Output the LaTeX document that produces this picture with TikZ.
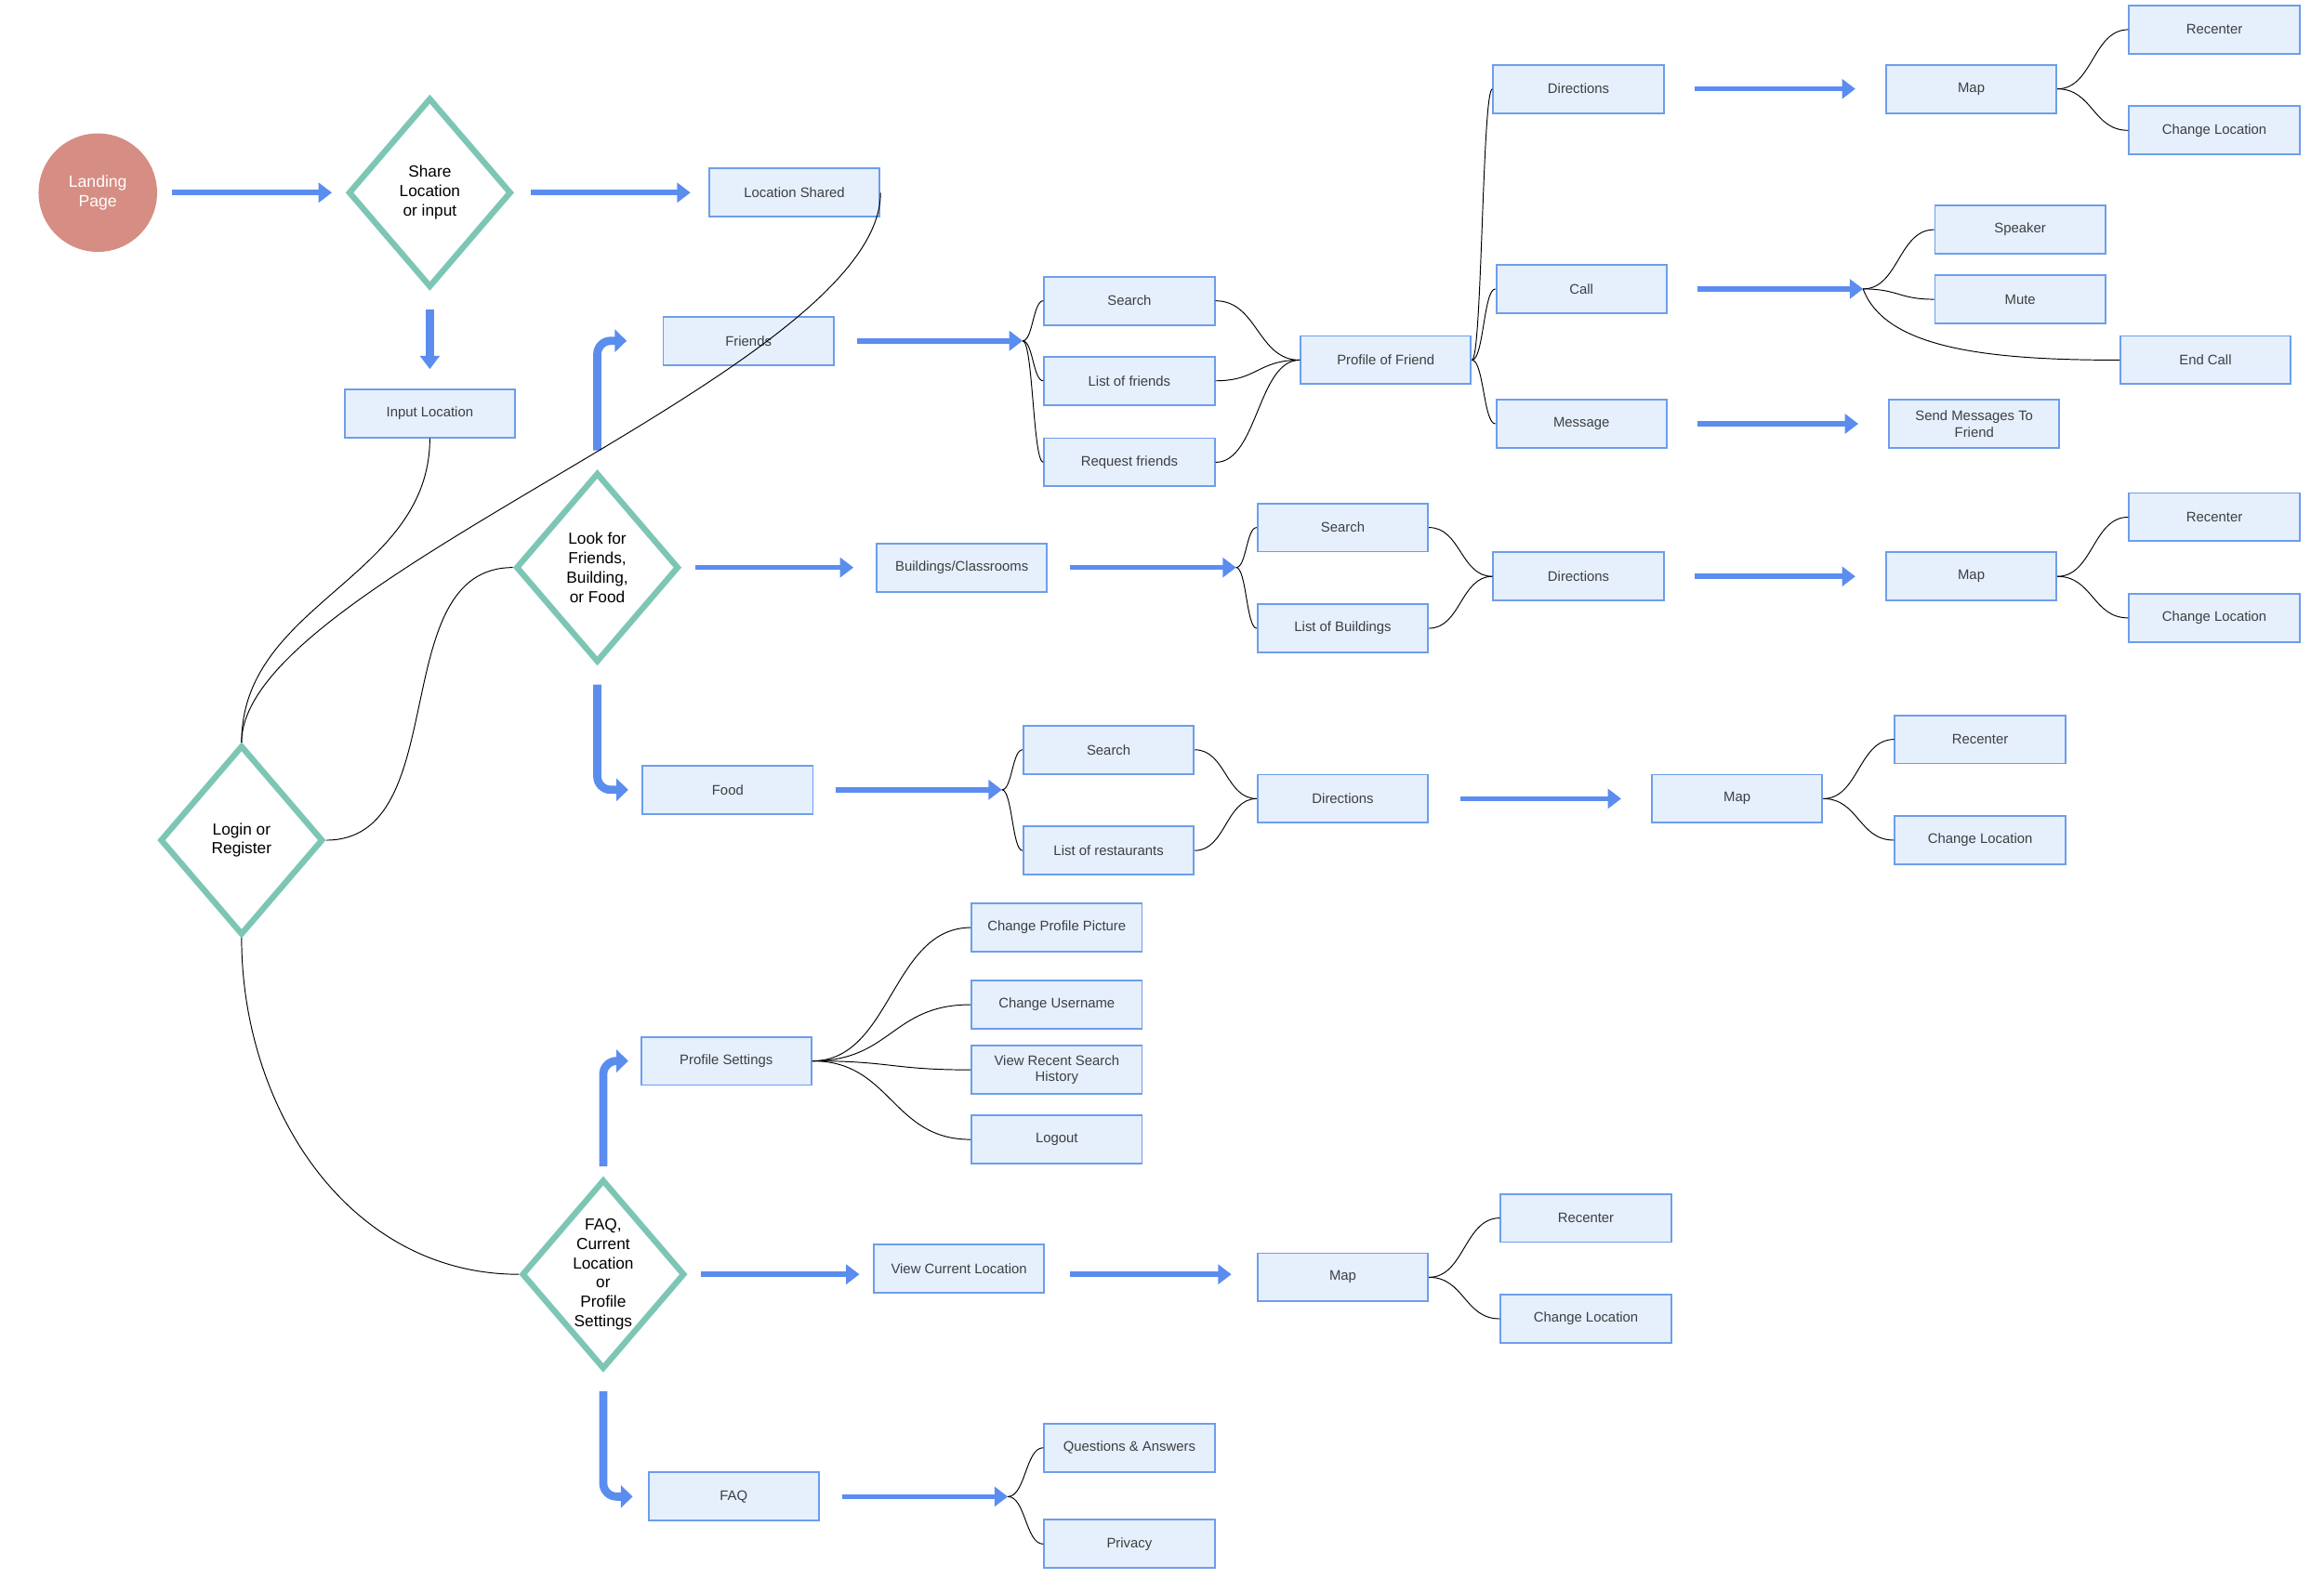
\documentclass[tikz,border=0pt]{standalone}
\usepackage{fontspec}
\setmainfont{Liberation Sans}
\usetikzlibrary{shapes.geometric,arrows.meta,calc}
\definecolor{boxfill}{HTML}{E6EFFC}
\definecolor{boxline}{HTML}{6D9EEB}
\definecolor{flowblue}{HTML}{5B8DEF}
\definecolor{decisiongreen}{HTML}{7DC6B5}
\definecolor{landingred}{HTML}{D68D83}
\definecolor{textgray}{HTML}{3C4043}
\tikzstyle{box}=[draw=boxline,line width=1.2pt,fill=boxfill,minimum width=114.6pt,minimum height=32.4pt,inner sep=0pt,text=textgray,align=center,font=\fontsize{9.3}{11}\selectfont]
\tikzstyle{decision}=[diamond,draw=decisiongreen,line width=4pt,shape aspect=0.86,minimum width=109.6pt,minimum height=127.5pt,inner sep=0pt,align=center,font=\fontsize{10.8}{13}\selectfont]
\tikzstyle{start}=[circle,fill=landingred,minimum size=79.7pt,inner sep=0pt,text=white,align=center,font=\fontsize{11}{13}\selectfont]
\tikzstyle{flow}=[flowblue,line width=3.5pt,-{Triangle[length=9pt,width=13pt]}]
\tikzstyle{turn}=[flowblue,line width=5.5pt,rounded corners=9pt,-{Triangle[length=8pt,width=15pt]}]
\tikzstyle{link}=[black,line width=0.6pt]
\tikzset{fan/.style={link,to path={let \p1=(\tikztostart),\p2=(\tikztotarget) in
  .. controls +({(\x2-\x1)/2},0) and +({(\x1-\x2)/2},0) .. (\tikztotarget) \tikztonodes}}}

\begin{document}
\begin{tikzpicture}[x=0.9965pt,y=-0.9965pt]
  \useasboundingbox (0,0) rectangle (1568,1074);

  % DECISIONS
  \node[start] (landing) at (66,130) {Landing\\Page};
  \node[decision] (share) at (290,130) {Share\\Location\\or input};
  \node[box] (shared) at (536,130) {Location Shared};
  \node[box] (input) at (290,279) {Input Location};
  \node[decision] (login) at (163,567) {Login or\\Register};
  \node[decision] (look) at (403,383) {Look for\\Friends,\\Building,\\or Food};
  \node[decision] (faqd) at (407,860) {FAQ,\\Current\\Location\\or\\Profile\\Settings};

  % FRIENDS
  \node[box] (friends) at (505,230) {Friends};
  \node[box] (srchF) at (762,203) {Search};
  \node[box] (listF) at (762,257) {List of friends};
  \node[box] (reqF) at (762,312) {Request friends};
  \node[box] (profile) at (935,243) {Profile of Friend};
  \node[box] (dirF) at (1065,60) {Directions};
  \node[box] (call) at (1067,195) {Call};
  \node[box] (msg) at (1067,286) {Message};
  \node[box] (mapF) at (1330,60) {Map};
  \node[box] (recF) at (1494,20) {Recenter};
  \node[box] (chgF) at (1494,88) {Change Location};
  \node[box] (speaker) at (1363,155) {Speaker};
  \node[box] (mute) at (1363,202) {Mute};
  \node[box] (endcall) at (1488,243) {End Call};
  \node[box] (send) at (1332,286) {Send Messages To\\Friend};

  % BUILDINGS
  \node[box] (bldg) at (649,383) {Buildings/Classrooms};
  \node[box] (srchB) at (906,356) {Search};
  \node[box] (listB) at (906,424) {List of Buildings};
  \node[box] (dirB) at (1065,389) {Directions};
  \node[box] (mapB) at (1330,389) {Map};
  \node[box] (recB) at (1494,349) {Recenter};
  \node[box] (chgB) at (1494,417) {Change Location};

  % FOOD
  \node[box] (food) at (491,533) {Food};
  \node[box] (srchD) at (748,506) {Search};
  \node[box] (listD) at (748,574) {List of restaurants};
  \node[box] (dirD) at (906,539) {Directions};
  \node[box] (mapD) at (1172,539) {Map};
  \node[box] (recD) at (1336,499) {Recenter};
  \node[box] (chgD) at (1336,567) {Change Location};

  % PROFILE SETTINGS
  \node[box] (settings) at (490,716) {Profile Settings};
  \node[box] (picture) at (713,626) {Change Profile Picture};
  \node[box] (username) at (713,678) {Change Username};
  \node[box] (history) at (713,722) {View Recent Search\\History};
  \node[box] (logout) at (713,769) {Logout};

  % CURRENT LOCATION
  \node[box] (view) at (647,856) {View Current Location};
  \node[box] (mapV) at (906,862) {Map};
  \node[box] (recV) at (1070,822) {Recenter};
  \node[box] (chgV) at (1070,890) {Change Location};

  % FAQ
  \node[box] (faq) at (495,1010) {FAQ};
  \node[box] (qa) at (762,977) {Questions \& Answers};
  \node[box] (privacy) at (762,1042) {Privacy};

  % ARROWS
  \coordinate (fanF) at (690,230);
  \coordinate (fanB) at (834,383);
  \coordinate (fanD) at (676,533);
  \coordinate (fanC) at (1257,195);
  \coordinate (fanQ) at (680,1010);
  \draw[flow,shorten <=10pt,shorten >=9pt] (landing.east) -- (share.west);
  \draw[flow,shorten <=11pt,shorten >=12pt] (share.east) -- (shared.west);
  \draw[flow,line width=5.5pt,shorten <=13pt,shorten >=13pt] (share.south) -- (input.north);
  \draw[flow,shorten <=9pt,shorten >=15pt] (look.east) -- (bldg.west);
  \draw[flow,shorten <=15pt] (friends.east) -- (fanF);
  \draw[flow,shorten <=15pt] (bldg.east) -- (fanB);
  \draw[flow,shorten <=15pt] (food.east) -- (fanD);
  \draw[flow,shorten <=20pt,shorten >=20pt] (dirF.east) -- (mapF.west);
  \draw[flow,shorten <=20pt] (call.east) -- (fanC);
  \draw[flow,shorten <=20pt,shorten >=20pt] (msg.east) -- (send.west);
  \draw[flow,shorten <=20pt,shorten >=20pt] (dirB.east) -- (mapB.west);
  \draw[flow,shorten <=21pt,shorten >=20pt] (dirD.east) -- (mapD.west);
  \draw[flow,shorten <=9pt,shorten >=9pt] (faqd.east) -- (faqd.east -| view.west);
  \draw[flow,shorten <=17pt,shorten >=17pt] (faqd.east -| view.east) -- (faqd.east -| mapV.west);
  \draw[flow,shorten <=15pt] (faq.east) -- (fanQ);
  \draw[turn,shorten <=13pt,shorten >=24pt] (look.north) |- (friends.west);
  \draw[turn,shorten <=13pt,shorten >=9pt] (look.south) |- (food.west);
  \draw[turn,shorten <=7pt,shorten >=8pt] (faqd.north) |- (settings.west);
  \draw[turn,shorten <=13pt,shorten >=10pt] (faqd.south) |- (faq.west);

  % LINKS
  \draw[link] (input.south) to[out=-90,in=90] (login.north);
  \draw[link] (shared.east) .. controls +(0,120) and +(0,-110) .. (login.north);
  \draw[link] (login.east) to[out=0,in=180] (look.west);
  \draw[link] (login.south) to[out=-90,in=180] (faqd.west);
  \draw[link] (fanC) .. controls +(15,40) and +(-90,0) .. (endcall.west);
  \foreach \b in {srchF,listF,reqF} \draw[fan] (fanF) to (\b.west);
  \foreach \b in {srchF,listF,reqF} \draw[fan] (\b.east) to (profile.west);
  \foreach \b in {dirF,call,msg} \draw[fan] (profile.east) to (\b.west);
  \foreach \b in {recF,chgF} \draw[fan] (mapF.east) to (\b.west);
  \foreach \b in {speaker,mute} \draw[fan] (fanC) to (\b.west);
  \foreach \b in {srchB,listB} \draw[fan] (fanB) to (\b.west);
  \foreach \b in {srchB,listB} \draw[fan] (\b.east) to (dirB.west);
  \foreach \b in {recB,chgB} \draw[fan] (mapB.east) to (\b.west);
  \foreach \b in {srchD,listD} \draw[fan] (fanD) to (\b.west);
  \foreach \b in {srchD,listD} \draw[fan] (\b.east) to (dirD.west);
  \foreach \b in {recD,chgD} \draw[fan] (mapD.east) to (\b.west);
  \foreach \b in {picture,username,history,logout} \draw[fan] (settings.east) to (\b.west);
  \foreach \b in {recV,chgV} \draw[fan] (mapV.east) to (\b.west);
  \foreach \b in {qa,privacy} \draw[fan] (fanQ) to (\b.west);
\end{tikzpicture}
\end{document}
